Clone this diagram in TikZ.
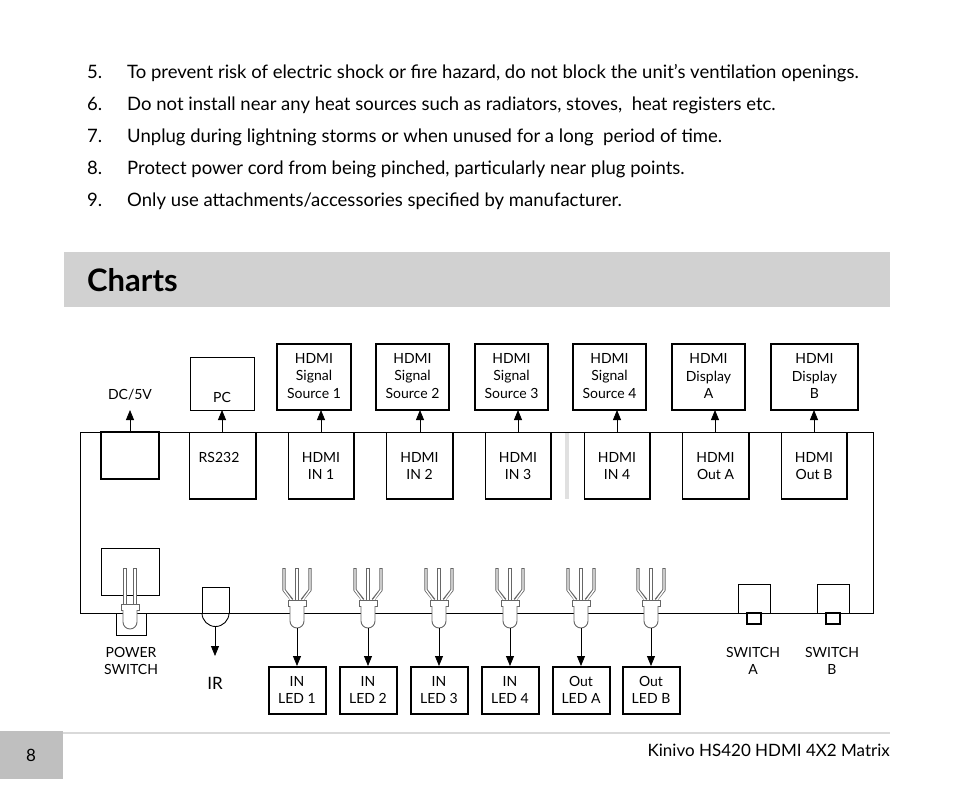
\documentclass[tikz,border=0pt]{standalone}
\usepackage{fontspec}
\setmainfont{Lato}
\usetikzlibrary{arrows.meta}
\begin{document}
\begin{tikzpicture}[x=1pt,y=-1pt,
  lbl/.style={font=\fontsize{14}{17.5}\selectfont,align=center,inner sep=0},
  item/.style={font=\fontsize{18.5}{22}\selectfont,anchor=base west,inner sep=0},
  bx/.style={draw,line width=0.8},
  arr/.style={-{Triangle[length=10pt,width=8pt]},line width=0.8},
  rarr/.style={{Triangle[length=10pt,width=8pt]}-,line width=0.8}]
\useasboundingbox (0,0) rectangle (954,796);
% list
\foreach \n/\t [count=\i] in {5/{To prevent risk of electric shock or fire hazard, do not block the unit’s ventilation openings.},
 6/{Do not install near any heat sources such as radiators, stoves,\ \ heat registers etc.},
 7/{Unplug during lightning storms or when unused for a long\ \ period of time.},
 8/{Protect power cord from being pinched, particularly near plug points.},
 9/{Only use attachments/accessories specified by manufacturer.}}{
  \node[item] (n\n) at (87,{46+32*\i}) {\n.};
  \node[item] (t\n) at (127,{46+32*\i}) {\t};
}
% banner
\fill[black!18] (64,252) rectangle (890,307);
\node[anchor=west,inner sep=0,font=\bfseries\fontsize{31}{34}\selectfont] (charts) at (87,280) {Charts};
% main box
\draw[line width=0.8] (80,432) rectangle (873,613);
\fill[black!12] (565,433) rectangle (569,499);
% top boxes
\draw[bx,line width=1.6] (101,432) rectangle (159,479);
\node[lbl] (dc) at (130,395) {DC/5V};
\coordinate (dctop) at (130,410);
\draw[arr] (130,432) -- (dctop);
\draw[bx] (190,357) rectangle (254,410);
\node[lbl] (pc) at (222,397) {PC};
\draw[bx] (189,432) rectangle (256,499);
\node[lbl] (rs) at (219,457) {RS232};
\draw[arr] (222,432) -- (222,410);
\foreach \xa/\xb/\pa/\pb/\c/\ta/\tb in {
 277/351/288/354/321/{HDMI\\Signal\\Source 1}/{HDMI\\IN 1},
 376/449/386/453/420/{HDMI\\Signal\\Source 2}/{HDMI\\IN 2},
 475/548/485/551/518/{HDMI\\Signal\\Source 3}/{HDMI\\IN 3},
 573/646/584/650/617/{HDMI\\Signal\\Source 4}/{HDMI\\IN 4},
 672/745/682/749/715/{HDMI\\Display\\A}/{HDMI\\Out A},
 771/858/781/847/814/{HDMI\\Display\\B}/{HDMI\\Out B}}{
  \draw[bx,line width=1.3] (\xa,344) rectangle (\xb,410);
  \node[lbl] (s\c) at ({(\xa+\xb)/2},376) {\ta};
  \draw[bx] (\pa,432) rectangle (\pb,499);
  \draw[line width=1.6] (\pb,432) -- (\pb,499) -- (\pa,499);
  \node[lbl] (p\c) at ({(\pa+\pb)/2},466) {\tb};
  \draw[arr] (\c,432) -- (\c,410);
}
\draw[line width=1.6] (256,432) -- (256,499) -- (189,499);
% power switch
\draw[bx] (101,548) rectangle (159,595);
\draw[bx] (116,613) rectangle (146,635);
\foreach \dx in {-5,5}{
  \draw[black!60,line width=3.2] (130+\dx,568) -- (130+\dx,604);
  \draw[white,line width=1.4] (130+\dx,569) -- (130+\dx,604);}
\draw[black!60,fill=white,line width=0.9] (121,604) rectangle (139,610);
\draw[black!60,fill=white,line width=0.9] (123,610) -- (123,622) arc[start angle=180,end angle=0,radius=7] -- (137,610);
\node[lbl] (pw) at (131,661) {POWER\\SWITCH};
% IR
\draw[bx] (202,587) rectangle (229,613);
\draw[line width=0.9] (202,613) arc[start angle=180,end angle=0,radius=13.5];
\draw[rarr] (215,656) -- (215,627);
\node[inner sep=0,font=\fontsize{17}{19}\selectfont] (ir) at (215,683) {IR};
% LEDs
\foreach \c/\t in {297/{IN\\LED 1},368/{IN\\LED 2},439/{IN\\LED 3},510/{IN\\LED 4},581/{Out\\LED A},651/{Out\\LED B}}{
  \foreach \dx/\ex in {-13/-5,0/0,13/5}{
    \draw[black!60,line width=3.2,line join=round] (\c+\dx,568) -- (\c+\dx,590) -- (\c+\ex,600);
    \draw[white,line width=1.4,line join=round] (\c+\dx,569) -- (\c+\dx,590) -- (\c+\ex,601);}
  \draw[black!60,fill=white,line width=0.9] (\c-9,600) rectangle (\c+9,606);
  \draw[black!60,fill=white,line width=0.9] (\c-7,606) -- (\c-7,621) arc[start angle=180,end angle=0,radius=7] -- (\c+7,606);
  \draw[bx,line width=1.4] (\c-28,667) rectangle (\c+29,714);
  \node[lbl] (l\c) at (\c,690) {\t};
  \draw[rarr] (\c,666) -- (\c,628);
}
% switches
\foreach \c/\t in {753/A,832/B}{
  \draw[bx] (\c-15,584) rectangle (\c+17,613);
  \draw[bx,line width=1.2] (\c-6,613) rectangle (\c+8,624);
  \node[lbl] (sw\t) at (\c,661) {SWITCH\\\t};
}
% footer
\fill[black!25] (0,731) rectangle (63,779);
\draw[black!15,line width=2] (63,733) -- (890,733);
\node[inner sep=0,font=\fontsize{17}{20}\selectfont] (pg) at (31,755) {8};
\node[anchor=east,inner sep=0,font=\fontsize{17}{20}\selectfont] (ft) at (890,750) {Kinivo HS420 HDMI 4X2 Matrix};
\end{tikzpicture}
\end{document}
